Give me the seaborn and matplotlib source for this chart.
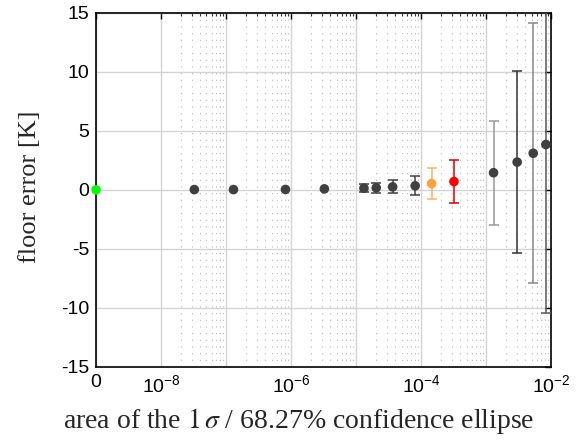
import numpy as np
import pandas as pd
import seaborn as sns
import matplotlib
matplotlib.use('Agg')
import matplotlib.pyplot as plt
from matplotlib.ticker import FixedLocator, FixedFormatter, NullFormatter

# area of the 1 sigma ellipse (0 = reference point, drawn at the left edge)
area = [0, 3.25e-8, 1.3e-7, 8.2e-7, 3.25e-6, 1.32e-5, 2.04e-5, 3.65e-5, 8.1e-5,
        1.45e-4, 3.2e-4, 1.3e-3, 3.0e-3, 5.3e-3, 8.3e-3]
floor_error = [0.0, 0.02, 0.02, 0.03, 0.08, 0.14, 0.17, 0.25, 0.34,
               0.53, 0.7, 1.45, 2.35, 3.1, 3.84]
floor_std = [0, 0, 0, 0, 0, 0.34, 0.4, 0.55, 0.8,
             1.3, 1.8, 4.4, 7.7, 11.0, 14.3]
group = ['zero'] + ['other'] * 8 + ['orange', 'red'] + ['other'] * 4
err_colors = ['#404040'] * 9 + ['#ffb060', '#e00000', '#999999', '#333333', '#888888', '#5a5a5a']

x_zero = 1e-9
palette = {'zero': '#00ff00', 'other': '#404040', 'orange': '#ffa040', 'red': '#ff0000'}

df = pd.DataFrame({'area': area, 'floor_error': floor_error, 'std': floor_std, 'group': group})
df['x'] = df['area'].where(df['area'] > 0, x_zero)

sns.set_style('white')
plt.rcParams['font.family'] = ['Liberation Sans', 'DejaVu Sans']
plt.rcParams['mathtext.fontset'] = 'stix'
plt.rcParams['axes.unicode_minus'] = False

fig = plt.figure(figsize=(5.82, 4.43), dpi=100)
ax = fig.add_axes([0.165, 0.172, 0.782, 0.799])

for i, row in df.iterrows():
    if row['std'] > 0:
        ax.errorbar(row['x'], row['floor_error'], yerr=row['std'], fmt='none',
                    ecolor=err_colors[i], elinewidth=1.1, capsize=3.3, capthick=1.1, zorder=3)

sns.scatterplot(data=df, x='x', y='floor_error', hue='group', palette=palette,
                s=48, edgecolor='none', legend=False, ax=ax, zorder=4, clip_on=False)

ax.set_xscale('log')
ax.set_xlim(1e-9, 1e-2)
ax.set_ylim(-15, 15)

majors = [1e-9] + [10.0 ** e for e in range(-8, -1)]
labels = ['0', r'$\mathregular{10^{-8}}$', '', r'$\mathregular{10^{-6}}$', '',
          r'$\mathregular{10^{-4}}$', '', r'$\mathregular{10^{-2}}$']
ax.xaxis.set_major_locator(FixedLocator(majors))
ax.xaxis.set_major_formatter(FixedFormatter(labels))
minors = [k * 10.0 ** e for e in range(-8, -2) for k in range(2, 10)]
ax.xaxis.set_minor_locator(FixedLocator(minors))
ax.xaxis.set_minor_formatter(NullFormatter())
ax.set_yticks([-15, -10, -5, 0, 5, 10, 15])

ax.grid(True, which='major', color='#d4d4d4', linewidth=1.0, linestyle='-', zorder=0)
ax.grid(True, which='minor', axis='x', color='#b8b8b8', linewidth=0.8, linestyle=(0, (1, 5)), zorder=0)
ax.set_axisbelow(True)

ax.tick_params(which='major', direction='in', length=4, width=1, top=True, right=True,
               labelsize=14, colors='black', pad=5)
ax.tick_params(which='minor', direction='in', length=2.5, width=0.8, top=True, right=False)
for s in ax.spines.values():
    s.set_color('black')
    s.set_linewidth(1.2)

ax.set_xlabel(r'area of the $1\,\sigma$ / 68.27% confidence ellipse',
              fontsize=20, family='Liberation Serif')
ax.xaxis.set_label_coords(0.445, -0.11)
ax.set_ylabel('floor error [K]', fontsize=19, family='Liberation Serif')
ax.yaxis.set_label_coords(-0.12, 0.51)

fig.savefig('out.png', dpi=100)
